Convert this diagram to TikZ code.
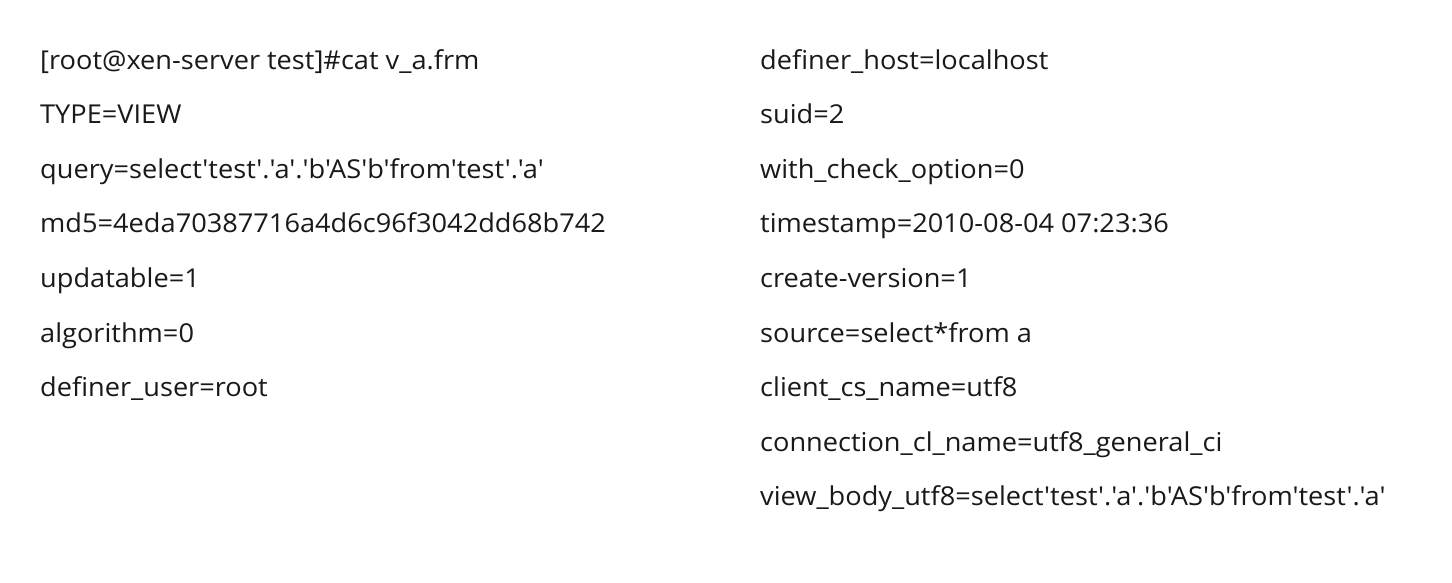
\documentclass[tikz,border=0pt]{standalone}
\usepackage{fontspec}
\newfontfamily\frmfont{Open Sans}[Ligatures=ResetAll,FakeStretch=1.045]

\begin{document}
\begin{tikzpicture}[x=1pt,y=-1pt]
\tikzstyle{every node}+=[inner sep=0pt]
\tikzstyle{frmline}=[anchor=base west,font=\frmfont\fontsize{26}{30}\selectfont,text=black!90]
\useasboundingbox (0,0) rectangle (1452,582);

% left column
\node [frmline] (cmd) at (40,69) {[root@xen-server test]\#cat v\_a.frm};
\node [frmline] (type) at (40,123.6) {TYPE=VIEW};
\node [frmline] (query) at (40,178.2) {query=select'test'.'a'.'b'AS'b'from'test'.'a'};
\node [frmline] (md5) at (40,232.8) {md5=4eda70387716a4d6c96f3042dd68b742};
\node [frmline] (upd) at (40,287.4) {updatable=1};
\node [frmline] (algo) at (40,342) {algorithm=0};
\node [frmline] (duser) at (40,396.6) {definer\_user=root};

% right column
\node [frmline] (dhost) at (760,69) {definer\_host=localhost};
\node [frmline] (suid) at (760,123.6) {suid=2};
\node [frmline] (wco) at (760,178.2) {with\_check\_option=0};
\node [frmline] (tstamp) at (760,232.8) {timestamp=2010-08-04 07:23:36};
\node [frmline] (cver) at (760,287.4) {create-version=1};
\node [frmline] (src) at (760,342) {source=select*from a};
\node [frmline] (ccs) at (760,396.6) {client\_cs\_name=utf8};
\node [frmline] (ccl) at (760,451.2) {connection\_cl\_name=utf8\_general\_ci};
\node [frmline] (vbody) at (760,505.8) {view\_body\_utf8=select'test'.'a'.'b'AS'b'from'test'.'a'};
\end{tikzpicture}
\end{document}
